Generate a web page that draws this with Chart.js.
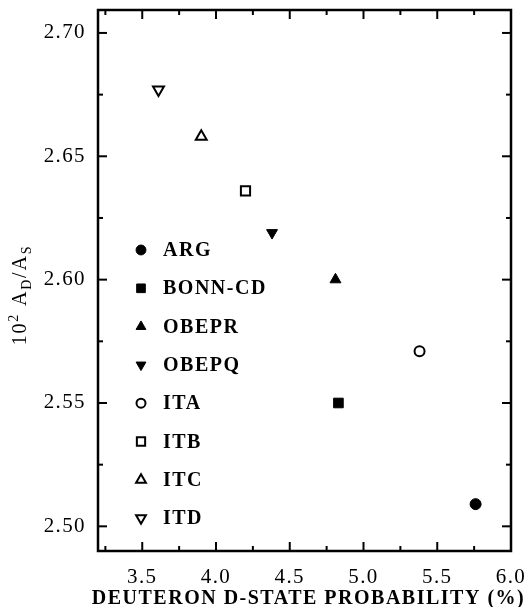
<!DOCTYPE html>
<html><head><meta charset="utf-8">
<script src="https://cdn.jsdelivr.net/npm/chart.js@4/dist/chart.umd.min.js"></script>
<style>html,body{margin:0;padding:0;background:#fff}#wrap{width:527px;height:607px}</style>
</head><body><div id="wrap"><canvas id="c" width="527" height="607"></canvas></div>
<script>
// ---- data ----
const models = ['ARG','BONN-CD','OBEPR','OBEPQ','ITA','ITB','ITC','ITD'];
const dStateProb = [5.76, 4.83, 4.81, 4.38, 5.38, 4.20, 3.90, 3.61];
const asymptoticRatio = [2.509, 2.550, 2.600, 2.619, 2.571, 2.636, 2.658, 2.677];
const xTicks = [3.5, 4.0, 4.5, 5.0, 5.5, 6.0];
const xMinorTicks = [3.25, 3.75, 4.25, 4.75, 5.25, 5.75];
const yTicks = [2.50, 2.55, 2.60, 2.65, 2.70];
const yMinorTicks = [2.525, 2.575, 2.625, 2.675];
const xTitle = 'DEUTERON D-STATE PROBABILITY (%)';

// ---- marker styles (separate from data) ----
const markerStyles = [
  {pointStyle:'circle',   radius:5.5, rotation:0,   fill:'#000', borderWidth:1},
  {pointStyle:'rect',     radius:6.8, rotation:0,   fill:'#000', borderWidth:1},
  {pointStyle:'triangle', radius:6.3, rotation:0,   fill:'#000', borderWidth:1},
  {pointStyle:'triangle', radius:6.3, rotation:180, fill:'#000', borderWidth:1},
  {pointStyle:'circle',   radius:5,   rotation:0,   fill:'#fff', borderWidth:2},
  {pointStyle:'rect',     radius:6.5, rotation:0,   fill:'#fff', borderWidth:2},
  {pointStyle:'triangle', radius:6.3, rotation:0,   fill:'#fff', borderWidth:2},
  {pointStyle:'triangle', radius:6.3, rotation:180, fill:'#fff', borderWidth:2}
];

const SERIF = '"Liberation Serif", "DejaVu Serif", serif';

const datasets = models.map((m, i) => {
  const s = markerStyles[i];
  return {
    label: m,
    data: [{x: dStateProb[i], y: asymptoticRatio[i]}],
    pointStyle: s.pointStyle,
    pointRadius: s.radius,
    pointHoverRadius: s.radius,
    pointRotation: s.rotation,
    pointBackgroundColor: s.fill,
    pointBorderColor: '#000',
    pointBorderWidth: s.borderWidth,
    pointHoverBorderWidth: s.borderWidth,
    showLine: false
  };
});

const letterSpacingPlugin = {
  id: 'ls',
  beforeDraw(chart) { chart.ctx.letterSpacing = '1.4px'; }
};

const framePlugin = {
  id: 'frame',
  afterDatasetsDraw(chart) {
    const ctx = chart.ctx;
    const {left, right, top, bottom} = chart.chartArea;
    const xs = chart.scales.x, ys = chart.scales.y;
    ctx.save();
    ctx.strokeStyle = '#000';
    ctx.lineWidth = 2;
    ctx.lineCap = 'butt';
    const line = (x1, y1, x2, y2) => { ctx.beginPath(); ctx.moveTo(x1, y1); ctx.lineTo(x2, y2); ctx.stroke(); };
    const major = 9, minor = 5;
    xTicks.forEach(v => { const p = xs.getPixelForValue(v); line(p, bottom, p, bottom - major); line(p, top, p, top + major); });
    xMinorTicks.forEach(v => { const p = xs.getPixelForValue(v); line(p, bottom, p, bottom - minor); line(p, top, p, top + minor); });
    yTicks.forEach(v => { const p = ys.getPixelForValue(v); line(left, p, left + major, p); line(right, p, right - major, p); });
    yMinorTicks.forEach(v => { const p = ys.getPixelForValue(v); line(left, p, left + minor, p); line(right, p, right - minor, p); });
    ctx.lineWidth = 2.5;
    ctx.strokeRect(left, top, right - left, bottom - top);
    ctx.restore();
  }
};

const textPlugin = {
  id: 'texts',
  afterDraw(chart) {
    const ctx = chart.ctx;
    const {left, right, top, bottom} = chart.chartArea;
    ctx.save();
    ctx.fillStyle = '#000';
    // legend
    ctx.letterSpacing = '1.5px';
    ctx.font = 'bold 20px ' + SERIF;
    ctx.textBaseline = 'middle';
    ctx.textAlign = 'left';
    models.forEach((m, i) => {
      const s = markerStyles[i];
      const y = 250 + i * 38.3;
      ctx.fillStyle = s.fill;
      ctx.strokeStyle = '#000';
      ctx.lineWidth = s.borderWidth;
      Chart.helpers.drawPoint(ctx, {pointStyle: s.pointStyle, radius: s.radius * 0.9, rotation: s.rotation, borderWidth: s.borderWidth}, 141, y);
      ctx.fillStyle = '#000';
      ctx.fillText(m, 163, y + 1);
    });
    // x title
    ctx.letterSpacing = '1.5px';
    ctx.font = 'bold 20px ' + SERIF;
    ctx.textAlign = 'center';
    ctx.textBaseline = 'alphabetic';
    ctx.fillText(xTitle, (left + right) / 2 + 4, 604);
    // y title with super/subscripts
    ctx.letterSpacing = '1.8px';
    const big = '20px ' + SERIF, small = '14px ' + SERIF;
    const segs = [
      {t: '10', f: big, dy: 0},
      {t: '2', f: small, dy: -8},
      {t: ' A', f: big, dy: 0},
      {t: 'D', f: small, dy: 5},
      {t: '/A', f: big, dy: 0},
      {t: 'S', f: small, dy: 5}
    ];
    let total = 0;
    segs.forEach(s => { ctx.font = s.f; s.w = ctx.measureText(s.t).width; total += s.w; });
    ctx.translate(19, 295);
    ctx.rotate(-Math.PI / 2);
    ctx.textAlign = 'left';
    let x = -total / 2;
    segs.forEach(s => { ctx.font = s.f; ctx.fillText(s.t, x, 7 + s.dy); x += s.w; });
    ctx.restore();
  }
};

new Chart(document.getElementById('c'), {
  type: 'scatter',
  data: { datasets },
  options: {
    responsive: false,
    animation: false,
    events: [],
    layout: { padding: { top: 10, right: 16, left: 0, bottom: 0 } },
    plugins: { legend: { display: false }, tooltip: { enabled: false } },
    scales: {
      x: {
        type: 'linear', min: 3.2, max: 6.0,
        grid: { display: false, drawTicks: false },
        border: { display: false },
        afterBuildTicks: s => { s.ticks = xTicks.map(v => ({value: v})); },
        afterFit: s => { s.height = 56; s.paddingLeft = 0; s.paddingRight = 0; },
        ticks: { color: '#000', padding: 14, maxRotation: 0, autoSkip: false,
                 font: { family: SERIF, size: 21 }, callback: v => Number(v).toFixed(1) }
      },
      y: {
        type: 'linear', min: 2.49, max: 2.7093,
        grid: { display: false, drawTicks: false },
        border: { display: false },
        afterBuildTicks: s => { s.ticks = yTicks.map(v => ({value: v})); },
        afterFit: s => { s.width = 98; s.paddingTop = 0; s.paddingBottom = 0; },
        ticks: { color: '#000', padding: 12, autoSkip: false,
                 font: { family: SERIF, size: 21 }, callback: v => Number(v).toFixed(2) }
      }
    }
  },
  plugins: [letterSpacingPlugin, framePlugin, textPlugin]
});
</script>
</body></html>
